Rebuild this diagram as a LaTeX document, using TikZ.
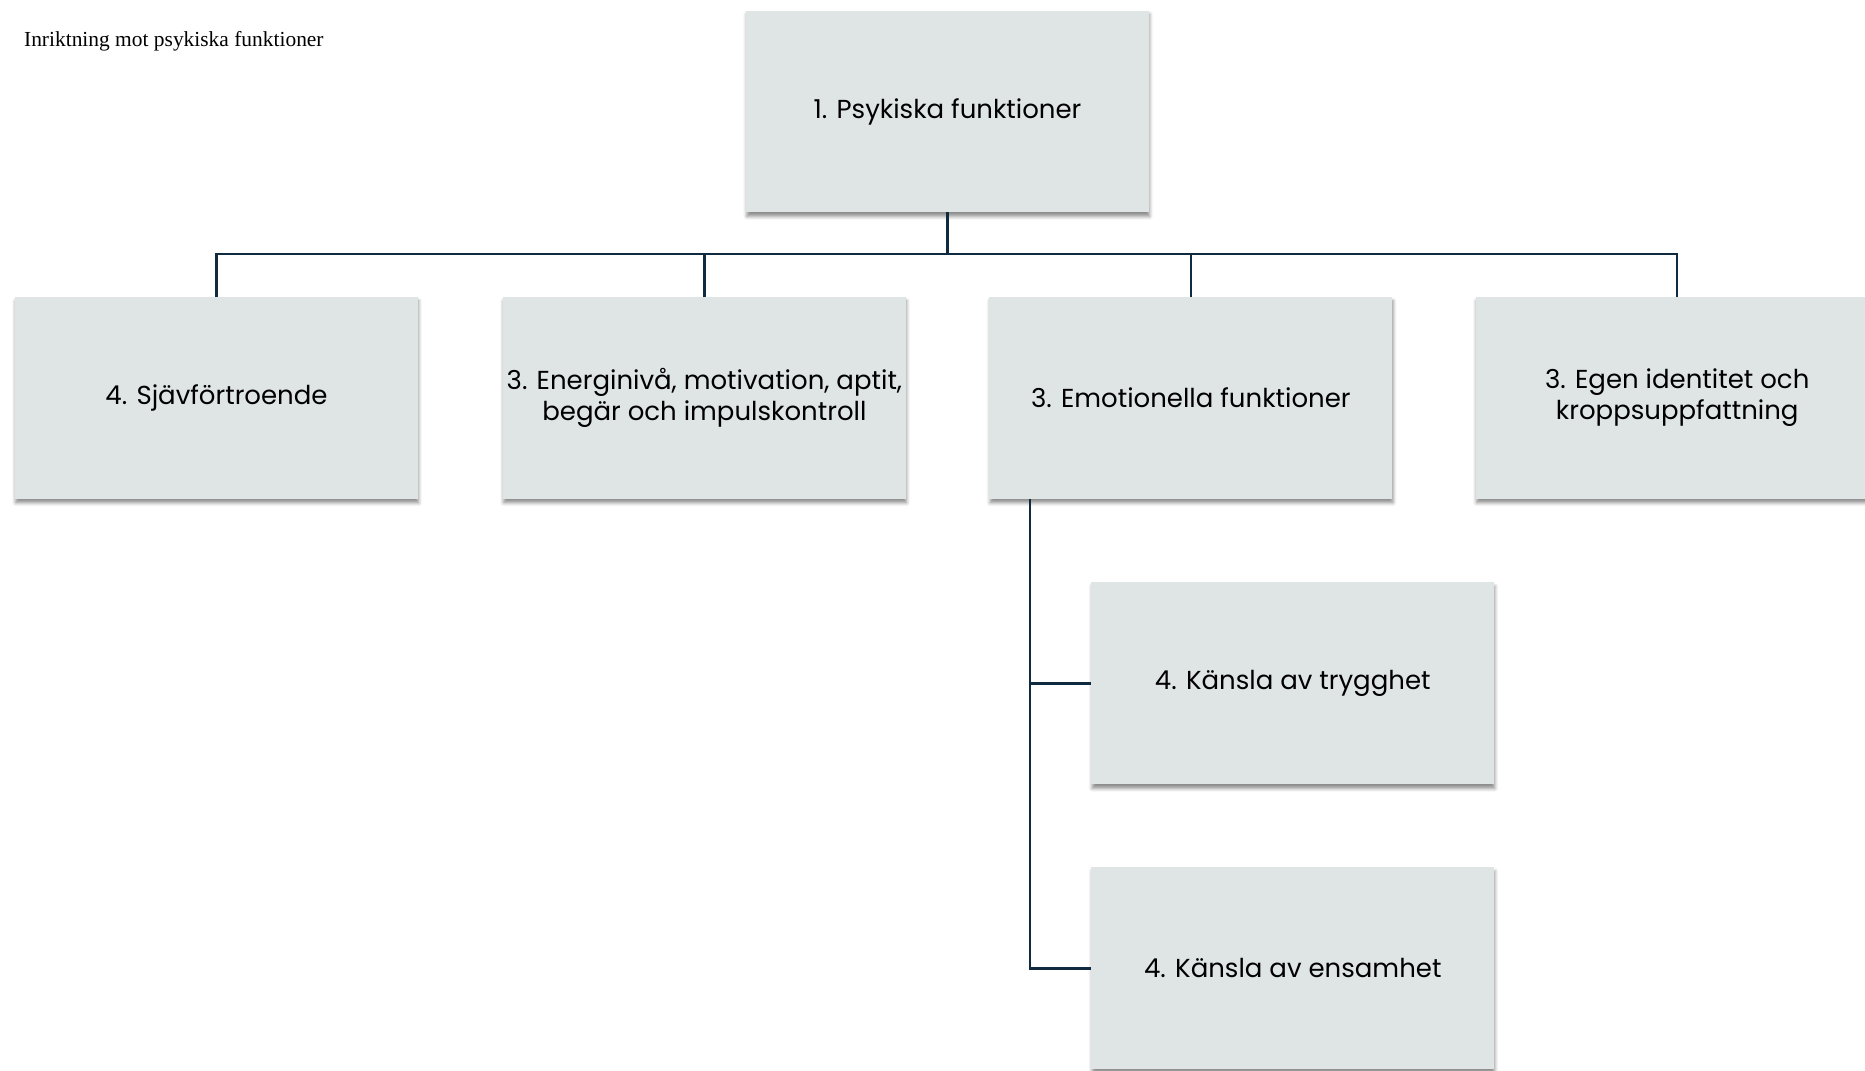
\documentclass[tikz,border=0pt]{standalone}
\usepackage{fontspec}
\setmainfont{Liberation Serif}
\newfontfamily\rutfont{Poppins}
\usetikzlibrary{positioning,shadows.blur}
\definecolor{rutgra}{RGB}{223,228,228}
\definecolor{linjebla}{RGB}{16,42,64}

\begin{document}
\begin{tikzpicture}[x=0.02cm, y=-0.02cm, node distance=1.67cm,
                    line width=1.3pt, draw=linjebla]
  \tikzstyle{ruta}=[rectangle, fill=rutgra, outer sep=0pt, inner xsep=0pt,
                    align=center, minimum width=8.06cm, minimum height=4.04cm,
                    font=\rutfont\fontsize{14.8}{17.6}\selectfont,
                    blur shadow={shadow xshift=0.4pt, shadow yshift=-2.2pt,
                                 shadow blur radius=2pt, shadow opacity=45}]
  \useasboundingbox (0,0) rectangle (1865,1071);

  \node[anchor=base west, inner sep=0pt, font=\fontsize{12.2}{15}\selectfont]
        (rubrik) at (23,47) {Inriktning mot psykiska funktioner};

  \node[ruta] (psyk)   at (947.5,111.5)     {1. Psykiska funktioner};
  \node[ruta] (sjalv)  at (216.5,398)        {4. Sjävförtroende};
  \node[ruta] (energi) [right=1.70cm of sjalv] {3. Energinivå, motivation, aptit,\\begär och impulskontroll};
  \node[ruta] (emot)   [right=of energi] {3. Emotionella funktioner};
  \node[ruta] (ident)  [right=of emot]   {3. Egen identitet och\\kroppsuppfattning};
  \node[ruta] (trygg)  [below=1.67cm of emot.south west, anchor=north west, xshift=2.04cm]
                       {4. Känsla av trygghet};
  \node[ruta] (ensam)  [below=1.66cm of trygg] {4. Känsla av ensamhet};

  \coordinate (buss) at (947.5,254);
  \coordinate (stam) at ([xshift=0.82cm]emot.south west);

  \draw[linjebla] (psyk.south) -- (buss)
        (sjalv.north)  |- (buss)
        (energi.north) |- (buss)
        (emot.north)   |- (buss)
        (ident.north)  |- (buss)
        (stam) |- (trygg.west)
        (stam) |- (ensam.west);
\end{tikzpicture}
\end{document}
